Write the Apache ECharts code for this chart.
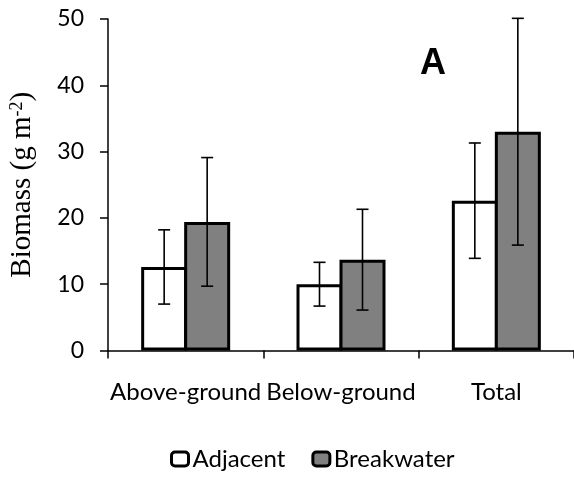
<!DOCTYPE html>
<html>
<head>
<meta charset="utf-8">
<script src="https://cdn.jsdelivr.net/npm/echarts@6/dist/echarts.min.js"></script>
<style>
  html, body { margin: 0; padding: 0; background: #fff; }
  #chart { width: 574px; height: 479px; }
</style>
</head>
<body>
<div id="chart"></div>
<script>
// Biomass by plant fraction, adjacent marsh vs. breakwater site
const categories = ['Above-ground', 'Below-ground', 'Total'];
const adjacentMean = [12.6, 10.0, 22.6];
const adjacentErr = [5.6, 3.3, 8.7];
const breakwaterMean = [19.4, 13.7, 33.0];
const breakwaterErr = [9.7, 7.6, 17.1];
const yTicks = [0, 10, 20, 30, 40, 50];

const BAR_W = 46;      // bar width in px
const BAR_OVERLAP = 3; // the two bars of a group share one border
const LABEL_FONT = 'Lato, "Open Sans", sans-serif';
const SERIF = '"Liberation Serif", "Times New Roman", serif';

// Error bars: vertical whisker with caps, shifted to the bar's centre
function errorBars(means, errs, side) {
  return {
    type: 'custom',
    z: 5,
    silent: true,
    data: means.map((m, i) => [i, m - errs[i], m + errs[i]]),
    encode: { x: 0, y: [1, 2] },
    renderItem: function (params, api) {
      const i = api.value(0);
      const lo = api.coord([i, api.value(1)]);
      const hi = api.coord([i, api.value(2)]);
      const x = lo[0] + side * (BAR_W - BAR_OVERLAP) / 2;
      const cap = 6;
      const style = { stroke: '#000', lineWidth: 1.6 };
      return {
        type: 'group',
        children: [
          { type: 'line', shape: { x1: x, y1: lo[1], x2: x, y2: hi[1] }, style: style },
          { type: 'line', shape: { x1: x - cap, y1: lo[1], x2: x + cap, y2: lo[1] }, style: style },
          { type: 'line', shape: { x1: x - cap, y1: hi[1], x2: x + cap, y2: hi[1] }, style: style }
        ]
      };
    }
  };
}

const barGap = (-BAR_OVERLAP / BAR_W * 100) + '%';

const chart = echarts.init(document.getElementById('chart'), null, { renderer: 'canvas' });
chart.setOption({
  animation: false,
  backgroundColor: '#fff',
  grid: { left: 108, right: 0, top: 19, bottom: 128.5, containLabel: false, outerBoundsMode: 'none' },
  legend: {
    data: ['Adjacent', 'Breakwater'],
    bottom: 3,
    left: 165,
    icon: 'roundRect',
    itemWidth: 17,
    itemHeight: 14,
    itemGap: 26,
    textStyle: { fontFamily: LABEL_FONT, fontSize: 24, color: '#000', padding: [0, 0, 0, -1] },
    itemStyle: { borderColor: '#000', borderWidth: 3 }
  },
  xAxis: {
    type: 'category',
    data: categories,
    axisLine: { lineStyle: { color: '#000', width: 1.5 } },
    axisTick: { show: true, alignWithLabel: false, length: 8, lineStyle: { color: '#000', width: 1.5 } },
    axisLabel: { margin: 30, color: '#000', fontFamily: LABEL_FONT, fontSize: 24, interval: 0 }
  },
  yAxis: {
    type: 'value',
    min: yTicks[0],
    max: yTicks[yTicks.length - 1],
    interval: yTicks[1] - yTicks[0],
    splitLine: { show: false },
    axisLine: { show: true, lineStyle: { color: '#000', width: 1.5 } },
    axisTick: { show: true, length: 8, lineStyle: { color: '#000', width: 1.5 } },
    axisLabel: { margin: 24, color: '#000', fontFamily: LABEL_FONT, fontSize: 23 },
    name: '{t|Biomass (g m}{s|-2}{t|)}',
    nameLocation: 'middle',
    nameRotate: 90,
    nameGap: 71,
    nameTextStyle: {
      rich: {
        t: { fontFamily: SERIF, fontSize: 29, color: '#000' },
        s: { fontFamily: SERIF, fontSize: 18, color: '#000', verticalAlign: 'top', padding: [0, 0, 10, 0] }
      }
    }
  },
  graphic: [{
    type: 'text',
    left: 420,
    top: 46,
    style: { text: 'A', font: 'bold 36px "Liberation Sans", Arial, sans-serif', fill: '#000' }
  }],
  series: [
    {
      name: 'Adjacent',
      type: 'bar',
      data: adjacentMean,
      barWidth: BAR_W,
      barGap: barGap,
      itemStyle: { color: '#ffffff', borderColor: '#000', borderWidth: 3 }
    },
    {
      name: 'Breakwater',
      type: 'bar',
      data: breakwaterMean,
      barWidth: BAR_W,
      barGap: barGap,
      itemStyle: { color: '#808080', borderColor: '#000', borderWidth: 3 }
    },
    errorBars(adjacentMean, adjacentErr, -1),
    errorBars(breakwaterMean, breakwaterErr, 1)
  ]
});
</script>
</body>
</html>
